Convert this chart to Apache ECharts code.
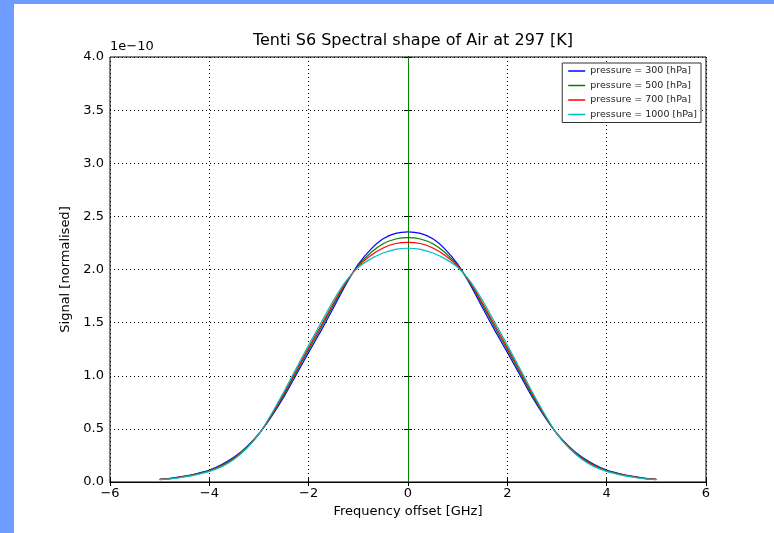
<!DOCTYPE html>
<html>
<head>
<meta charset="utf-8">
<script src="https://cdn.jsdelivr.net/npm/echarts@6/dist/echarts.min.js"></script>
<style>
html,body{margin:0;padding:0;background:#fff;}
#c{width:774px;height:533px;}
</style>
</head>
<body>
<div id="c"></div>
<script>
// Frequency offset [GHz]
var freqs = [-5,-4.75,-4.5,-4.25,-4,-3.75,-3.5,-3.25,-3,-2.75,-2.5,-2.25,-2,-1.75,-1.5,-1.25,-1,-0.75,-0.5,-0.25,0,
             0.25,0.5,0.75,1,1.25,1.5,1.75,2,2.25,2.5,2.75,3,3.25,3.5,3.75,4,4.25,4.5,4.75,5];
// Signal values, in units of 1e-10
var p300 = [0.025,0.037,0.055,0.08,0.112,0.165,0.235,0.33,0.455,0.615,0.80,1.01,1.22,1.425,1.64,1.86,2.05,2.19,2.29,2.34,2.355,
            2.34,2.29,2.19,2.05,1.86,1.64,1.425,1.22,1.01,0.80,0.615,0.455,0.33,0.235,0.165,0.112,0.08,0.055,0.037,0.025];
var p500 = [0.024,0.035,0.053,0.076,0.108,0.158,0.228,0.325,0.453,0.624,0.818,1.031,1.245,1.452,1.665,1.871,2.039,2.158,2.242,2.287,2.30,
            2.287,2.242,2.158,2.039,1.871,1.665,1.452,1.245,1.031,0.818,0.624,0.453,0.325,0.228,0.158,0.108,0.076,0.053,0.035,0.024];
var p700 = [0.023,0.034,0.051,0.073,0.104,0.152,0.222,0.321,0.452,0.631,0.834,1.049,1.265,1.473,1.685,1.879,2.031,2.132,2.203,2.245,2.255,
            2.245,2.203,2.132,2.031,1.879,1.685,1.473,1.265,1.049,0.834,0.631,0.452,0.321,0.222,0.152,0.104,0.073,0.051,0.034,0.023];
var p1000 = [0.022,0.032,0.048,0.07,0.10,0.145,0.215,0.315,0.45,0.64,0.85,1.07,1.29,1.50,1.71,1.89,2.02,2.10,2.155,2.19,2.20,
             2.19,2.155,2.10,2.02,1.89,1.71,1.50,1.29,1.07,0.85,0.64,0.45,0.315,0.215,0.145,0.10,0.07,0.048,0.032,0.022];
var seriesNames = ['pressure = 300 [hPa]','pressure = 500 [hPa]','pressure = 700 [hPa]','pressure = 1000 [hPa]'];
var seriesColors = ['#0000ff','#008000','#ff0000','#00bfbf'];
var seriesValues = [p300,p500,p700,p1000];

function pairs(vals){ return freqs.map(function(f,i){ return [f, vals[i]]; }); }
function minusFmt(){ return function(v){ return String(v).replace('-', '\u2212'); }; }

var FONT = 'DejaVu Sans';
var chart = echarts.init(document.getElementById('c'), null, {renderer:'canvas'});

var series = seriesValues.map(function(vals, i){
  var s = {
    name: seriesNames[i], type:'line', data: pairs(vals), showSymbol:false, smooth:0.25,
    lineStyle:{color:seriesColors[i], width:1.2}, itemStyle:{color:seriesColors[i]},
    animation:false, z: 3+i
  };
  if (i === 1) {
    s.markLine = {silent:true, symbol:['none','none'], label:{show:false},
      lineStyle:{color:'#008000', type:'solid', width:1}, data:[{xAxis:0}], animation:false};
  }
  return s;
});

chart.setOption({
  backgroundColor:'#ffffff',
  animation:false,
  textStyle:{fontFamily:FONT},
  title:{text:'Tenti S6 Spectral shape of Air at 297 [K]', left:408, top:28, textAlign:'center',
    textStyle:{fontFamily:FONT, fontSize:16, fontWeight:'normal', color:'#000'}},
  grid:{left:110, top:57, width:596, height:425, show:true, borderColor:'#000', borderWidth:1, backgroundColor:'transparent'},
  legend:{data:seriesNames, orient:'vertical', right:73, top:63, itemWidth:17, itemHeight:1.5, itemGap:4.5,
    icon:'rect', borderColor:'#333', borderWidth:1, padding:[3,4,3,6], backgroundColor:'#fff',
    textStyle:{fontFamily:FONT, fontSize:9.5, color:'#222'}, selectedMode:false},
  xAxis:[
    {type:'value', min:-6, max:6, interval:2, position:'bottom',
     name:'Frequency offset [GHz]', nameLocation:'middle', nameGap:21,
     nameTextStyle:{fontFamily:FONT, fontSize:13, color:'#000'},
     axisLine:{show:true, lineStyle:{color:'#000'}},
     axisTick:{show:true, inside:true, length:4, lineStyle:{color:'#000'}},
     axisLabel:{formatter:minusFmt(), fontFamily:FONT, fontSize:13, color:'#000', margin:5},
     splitLine:{show:true, lineStyle:{color:'#000', type:[1,3], width:1}}},
    {type:'value', min:-6, max:6, interval:2, position:'top',
     axisLine:{show:true, lineStyle:{color:'#000'}},
     axisTick:{show:true, inside:true, length:4, lineStyle:{color:'#000'}},
     axisLabel:{show:false}, splitLine:{show:false}}
  ],
  yAxis:[
    {type:'value', min:0, max:4, interval:0.5, position:'left',
     name:'Signal [normalised]', nameLocation:'middle', nameGap:33, nameRotate:90,
     nameTextStyle:{fontFamily:FONT, fontSize:13, color:'#000'},
     axisLine:{show:true, lineStyle:{color:'#000'}},
     axisTick:{show:true, inside:true, length:4, lineStyle:{color:'#000'}},
     axisLabel:{formatter:function(v){return v.toFixed(1);}, fontFamily:FONT, fontSize:13, color:'#000', margin:6},
     splitLine:{show:true, lineStyle:{color:'#000', type:[1,3], width:1}}},
    {type:'value', min:0, max:4, interval:0.5, position:'right',
     axisLine:{show:true, lineStyle:{color:'#000'}},
     axisTick:{show:true, inside:true, length:4, lineStyle:{color:'#000'}},
     axisLabel:{show:false}, splitLine:{show:false}}
  ],
  graphic:[
    {type:'rect', left:0, top:0, shape:{width:14, height:533}, style:{fill:'#6e9cff'}, silent:true, z:100},
    {type:'rect', left:0, top:0, shape:{width:774, height:4}, style:{fill:'#6e9cff'}, silent:true, z:100},
    {type:'text', left:110, top:40, style:{text:'1e\u221210', fontFamily:FONT, fontSize:13, fill:'#000'}, silent:true}
  ],
  series: series
});
</script>
</body>
</html>
